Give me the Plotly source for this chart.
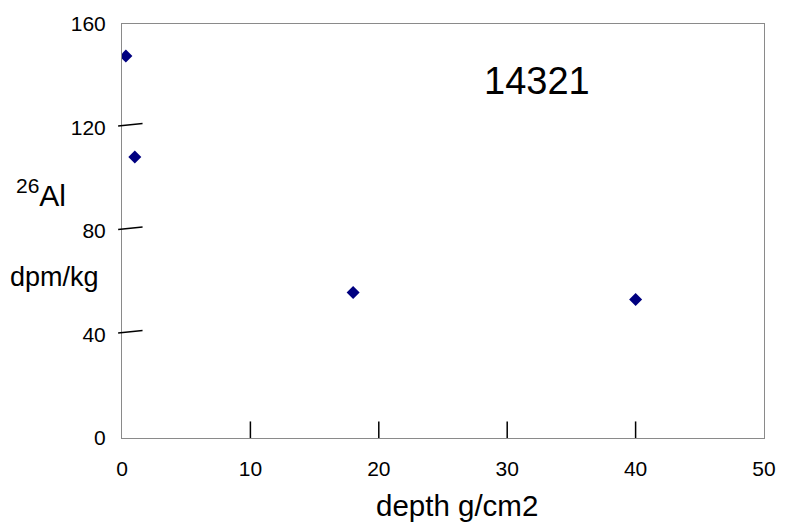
import plotly.graph_objects as go

# Data
depth = [0.3, 1.0, 18.0, 40.0]
al26 = [147.6, 108.6, 56.2, 53.5]
x_ticks = [0, 10, 20, 30, 40, 50]
x_tick_marks = [10, 20, 30, 40]
y_ticks = [0, 40, 80, 120, 160]
y_tick_marks = [40, 80, 120]

FONT = "Liberation Sans, Arial, sans-serif"

fig = go.Figure()
fig.add_trace(go.Scatter(
    x=depth, y=al26, mode="markers",
    marker=dict(symbol="diamond", size=10, color="#000080", line=dict(width=0)),
    showlegend=False, hoverinfo="x+y",
))

shapes = []
for v in x_tick_marks:
    shapes.append(dict(type="line", xref="x", yref="paper", x0=v, x1=v, y0=0, y1=0.04,
                       line=dict(color="black", width=1.5)))
for v in y_tick_marks:
    shapes.append(dict(type="line", xref="paper", yref="y", x0=-0.006, x1=0.032,
                       y0=v + 0.6, y1=v + 1.5, line=dict(color="black", width=1.5)))

fig.update_layout(
    width=788, height=527,
    autosize=False,
    margin=dict(l=122, r=14, t=19, b=89, pad=0),
    paper_bgcolor="white", plot_bgcolor="white",
    font=dict(family=FONT, color="black"),
    shapes=shapes,
    xaxis=dict(range=[0, 50], tickvals=x_ticks, ticks="", showgrid=False, zeroline=False,
               showline=True, mirror=True, linecolor="#8a8a8a", linewidth=1,
               tickfont=dict(size=21, family=FONT), ticklabelstandoff=12),
    yaxis=dict(range=[0, 160], tickvals=y_ticks, ticks="", showgrid=False, zeroline=False,
               showline=True, mirror=True, linecolor="#8a8a8a", linewidth=1,
               tickfont=dict(size=21, family=FONT), ticklabelstandoff=11),
    annotations=[
        dict(text="14321", xref="paper", yref="paper", x=0.647, y=0.862,
             xanchor="center", yanchor="middle", showarrow=False,
             font=dict(size=38, family=FONT)),
        dict(text="<sup>26</sup>Al", xref="paper", yref="paper", x=-0.168, y=0.592,
             xanchor="left", yanchor="middle", showarrow=False,
             font=dict(size=30, family=FONT)),
        dict(text="dpm/kg", xref="paper", yref="paper", x=-0.178, y=0.389,
             xanchor="left", yanchor="middle", showarrow=False,
             font=dict(size=27, family=FONT)),
        dict(text="depth g/cm2", xref="paper", yref="paper", x=0.522, y=-0.164,
             xanchor="center", yanchor="middle", showarrow=False,
             font=dict(size=29.5, family=FONT)),
    ],
)

fig.write_html("out.html")
